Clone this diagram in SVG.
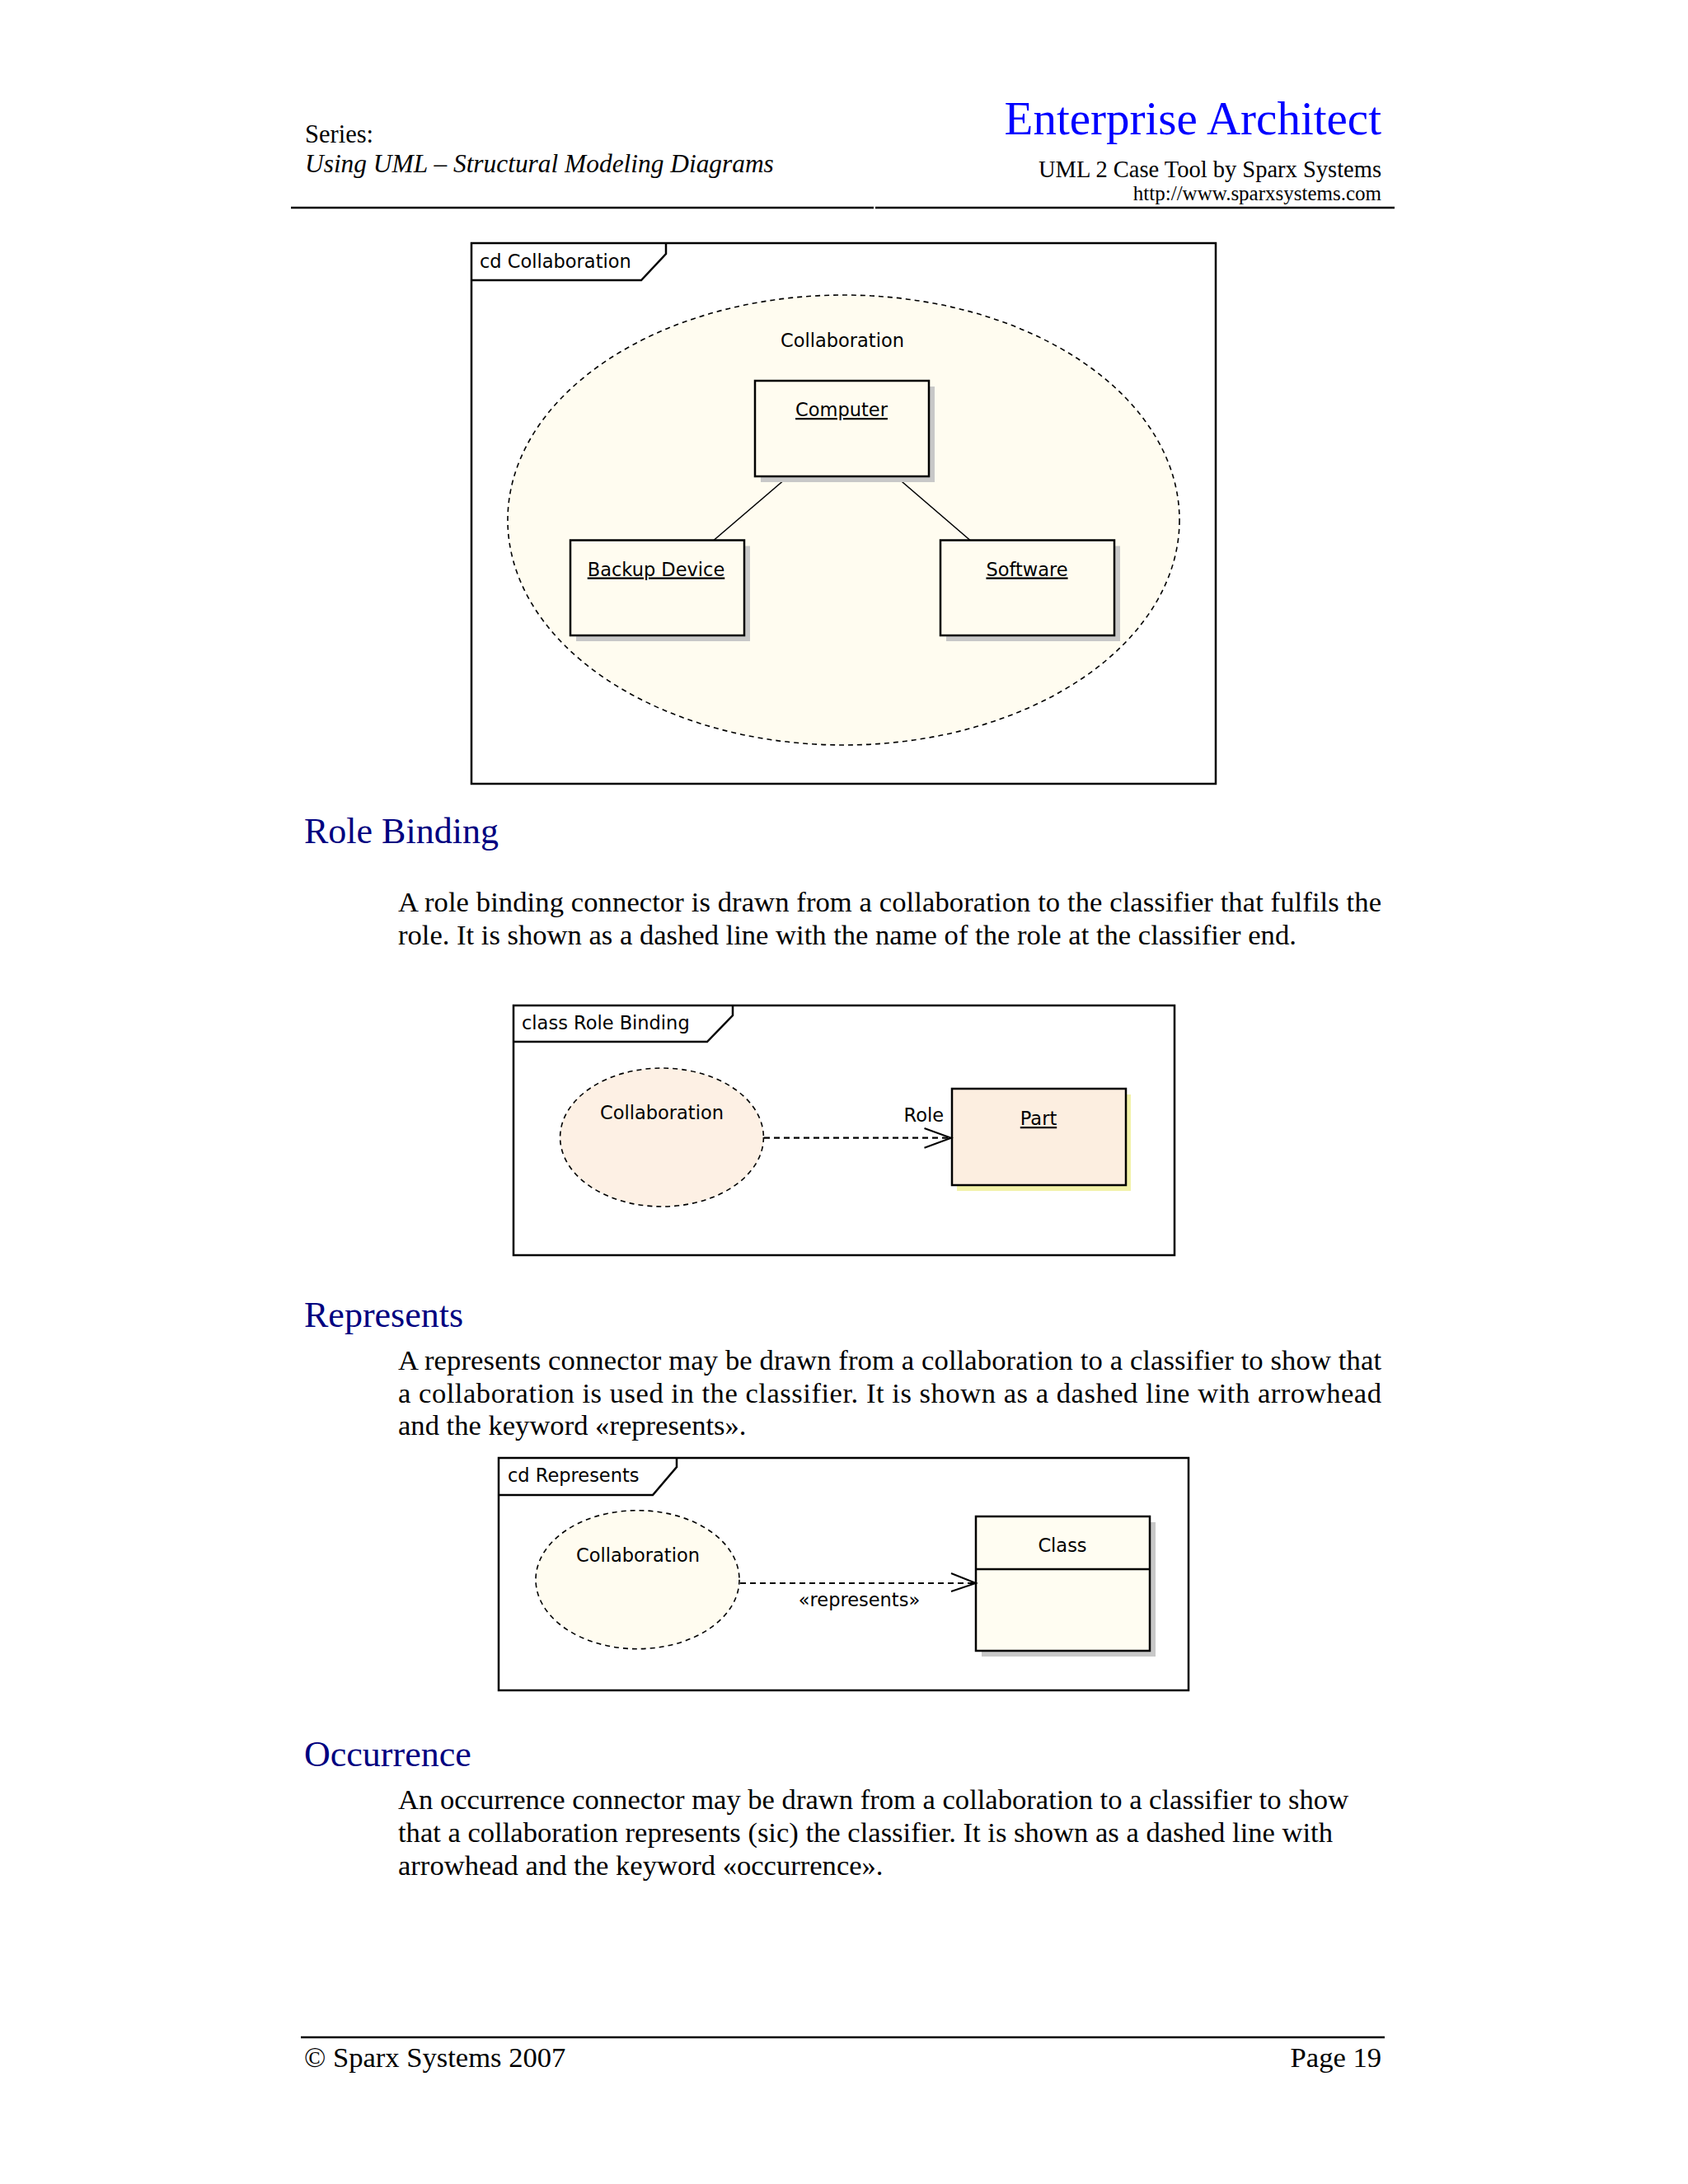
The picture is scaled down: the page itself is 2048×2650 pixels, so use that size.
<svg xmlns="http://www.w3.org/2000/svg" width="2048" height="2650" viewBox="0 0 2048 2650">
<style>
.serif{font-family:"Liberation Serif","Times New Roman",serif;fill:#000}
.hdr{font-size:30.5px}
.body{font-size:34.6px}
.h2{font-family:"Liberation Serif","Times New Roman",serif;font-size:44px;fill:#000080}
.ea{font-family:"DejaVu Sans","Liberation Sans",sans-serif;font-size:22.5px;fill:#000}
.mid{text-anchor:middle}
.end{text-anchor:end}
.u{text-decoration:underline}
.frame{fill:#fff;stroke:#000;stroke-width:2.5}
.tab{fill:none;stroke:#000;stroke-width:2.5}
.box{stroke:#000;stroke-width:2.5}
.collab{stroke:#000;stroke-width:1.6;stroke-dasharray:6 5}
.link{stroke:#000;stroke-width:1.6;fill:none}
.dash{stroke:#000;stroke-width:2.2;stroke-dasharray:7 5;fill:none}
.arrow{stroke:#000;stroke-width:2;fill:none}
.rule{stroke:#000;stroke-width:2.5}
</style>
<rect width="2048" height="2650" fill="#fff"/>

<g id="header">
  <text class="serif hdr" x="370" y="173">Series:</text>
  <text class="serif" x="370" y="209" font-size="31.4" font-style="italic">Using UML – Structural Modeling Diagrams</text>
  <text x="1676" y="163" class="end" font-family="Liberation Serif, Times New Roman, serif" font-size="57" fill="#0000ff">Enterprise Architect</text>
  <text class="serif end" x="1676" y="215" font-size="28.5">UML 2 Case Tool by Sparx Systems</text>
  <text class="serif end" x="1676" y="243" font-size="25">http://www.sparxsystems.com</text>
  <line class="rule" x1="353" y1="252" x2="1060" y2="252"/>
  <line class="rule" x1="1062" y1="252" x2="1692" y2="252"/>
</g>

<!-- Diagram 1: cd Collaboration -->
<g id="d1-frame">
  <rect class="frame" x="572" y="295" width="903" height="656"/>
  <polyline class="tab" points="572,340 778,340 808,308 808,295"/>
  <text class="ea" x="582" y="325">cd Collaboration</text>
</g>
<g id="d1-collaboration">
  <ellipse class="collab" cx="1023.5" cy="631" rx="407.5" ry="273" fill="#fffcf0"/>
  <text class="ea mid" x="1022" y="421">Collaboration</text>
</g>
<g id="d1-connectors">
  <line class="link" x1="953" y1="581" x2="866" y2="655.5"/>
  <line class="link" x1="1088" y1="579" x2="1177" y2="655.5"/>
</g>
<g id="d1-computer">
  <rect x="923" y="469" width="211" height="116" fill="#c8c8c8"/>
  <rect class="box" x="916" y="462" width="211" height="116" fill="#fffcf0"/>
  <text class="ea mid u" x="1021" y="505">Computer</text>
</g>
<g id="d1-backup">
  <rect x="699" y="662.5" width="211" height="115.5" fill="#c8c8c8"/>
  <rect class="box" x="692" y="655.5" width="211" height="115.5" fill="#fffcf0"/>
  <text class="ea mid u" x="796" y="698.5" font-size="23.3">Backup Device</text>
</g>
<g id="d1-software">
  <rect x="1148" y="662.5" width="211" height="115.5" fill="#c8c8c8"/>
  <rect class="box" x="1141" y="655.5" width="211" height="115.5" fill="#fffcf0"/>
  <text class="ea mid u" x="1246" y="698.5">Software</text>
</g>

<g id="role-binding-text">
  <text class="h2" x="369" y="1023">Role Binding</text>
  <text class="serif body" x="483" y="1106" textLength="1193" lengthAdjust="spacing">A role binding connector is drawn from a collaboration to the classifier that fulfils the</text>
  <text class="serif body" x="483" y="1146">role. It is shown as a dashed line with the name of the role at the classifier end.</text>
</g>

<!-- Diagram 2: class Role Binding -->
<g id="d2-frame">
  <rect class="frame" x="623" y="1220" width="802" height="303"/>
  <polyline class="tab" points="623,1264 858,1264 889,1232 889,1220"/>
  <text class="ea" x="633" y="1249">class Role Binding</text>
</g>
<g id="d2-collaboration">
  <ellipse class="collab" cx="803" cy="1380" rx="123.4" ry="84" fill="#fdf0e4"/>
  <text class="ea mid" x="803" y="1358">Collaboration</text>
</g>
<g id="d2-part">
  <rect x="1161" y="1328" width="211" height="117" fill="#f2f2a8"/>
  <rect class="box" x="1155" y="1321" width="211" height="117" fill="#fceee0"/>
  <text class="ea mid u" x="1260" y="1365">Part</text>
</g>
<g id="d2-connectors">
  <line class="dash" x1="927" y1="1380.7" x2="1153" y2="1380.7"/>
  <polyline class="arrow" points="1121.5,1369 1154,1380.7 1121.5,1392.7"/>
  <text class="ea end" x="1145" y="1361">Role</text>
</g>

<g id="represents-text">
  <text class="h2" x="369" y="1610">Represents</text>
  <text class="serif body" x="483" y="1662" textLength="1193" lengthAdjust="spacing">A represents connector may be drawn from a collaboration to a classifier to show that</text>
  <text class="serif body" x="483" y="1701.5" textLength="1193" lengthAdjust="spacing">a collaboration is used in the classifier. It is shown as a dashed line with arrowhead</text>
  <text class="serif body" x="483" y="1741">and the keyword «represents».</text>
</g>

<!-- Diagram 3: cd Represents -->
<g id="d3-frame">
  <rect class="frame" x="605" y="1769" width="837" height="282"/>
  <polyline class="tab" points="605,1814 792,1814 821,1780 821,1769"/>
  <text class="ea" x="616" y="1798">cd Represents</text>
</g>
<g id="d3-collaboration">
  <ellipse class="collab" cx="773.5" cy="1916.7" rx="123.5" ry="84" fill="#fffcf0"/>
  <text class="ea mid" x="774" y="1895">Collaboration</text>
</g>
<g id="d3-class">
  <rect x="1191" y="1847" width="211" height="163" fill="#c8c8c8"/>
  <rect class="box" x="1184" y="1840" width="211" height="163" fill="#fffdf2"/>
  <line class="box" x1="1184" y1="1904" x2="1395" y2="1904"/>
  <text class="ea mid" x="1289" y="1883">Class</text>
</g>
<g id="d3-connectors">
  <line class="dash" x1="898" y1="1921" x2="1183" y2="1921"/>
  <polyline class="arrow" points="1154,1909 1184,1921 1154,1931"/>
  <text class="ea mid" x="1042.5" y="1949" font-size="21">«represents»</text>
</g>

<g id="occurrence-text">
  <text class="h2" x="369" y="2143">Occurrence</text>
  <text class="serif body" x="483" y="2195">An occurrence connector may be drawn from a collaboration to a classifier to show</text>
  <text class="serif body" x="483" y="2235">that a collaboration represents (sic) the classifier. It is shown as a dashed line with</text>
  <text class="serif body" x="483" y="2275">arrowhead and the keyword «occurrence».</text>
</g>

<g id="footer">
  <line class="rule" x1="365" y1="2472" x2="1680" y2="2472"/>
  <text class="serif body" x="369" y="2508">© Sparx Systems 2007</text>
  <text class="serif body end" x="1676" y="2508">Page 19</text>
</g>
</svg>
